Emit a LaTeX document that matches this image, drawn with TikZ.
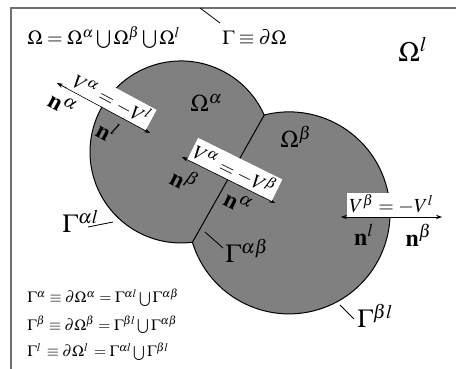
\documentclass[tikz,border=0pt]{standalone}
\usepackage{mathptmx}
\usepackage{xcolor}
\usepackage{tikz}
\usetikzlibrary{arrows.meta}
\definecolor{regiongray}{HTML}{808080}
\definecolor{framegray}{HTML}{707070}

\tikzset{
  vec/.style={{Stealth[length=3pt,width=2.2pt]}-{Stealth[length=3pt,width=2.2pt]}, line width=0.4pt},
  jumpbox/.style={fill=white, inner sep=1pt, sloped, anchor=south, font=\fontsize{10}{12}\selectfont},
  normlabel/.style={sloped, anchor=north, inner sep=3.5pt, font=\fontsize{12}{14}\selectfont},
  regionlabel/.style={anchor=base west, inner sep=0pt, font=\fontsize{12}{14}\selectfont},
  bndlabel/.style={anchor=base west, inner sep=0pt, font=\fontsize{13}{15}\selectfont},
  defeq/.style={anchor=base west, inner sep=0pt, font=\fontsize{7.8}{9}\selectfont},
  pointer/.style={line width=0.4pt},
}

\begin{document}
\begin{tikzpicture}[x=0.5pt,y=-0.5pt]
  \useasboundingbox (0,0) rectangle (456,369);
  % Frame (cut at right and bottom)
  \draw[framegray, line width=0.6pt] (11,369) -- (11,8) -- (456,8);

  % Two phases: two discs, straight interface between them
  \coordinate (jTop) at (264.2,115.1);
  \coordinate (jBot) at (192.4,242.3);
  \filldraw[fill=regiongray, draw=black, line width=0.5pt]
    (jTop) arc[start angle=-23.9, end angle=-277.2, radius=91]
           arc[start angle=163.1, end angle=-104.2, radius=101] -- cycle;
  \draw[line width=0.5pt] (jTop) -- (jBot);

  % Normals and jump conditions
  \coordinate (alA) at (57,83);
  \coordinate (alB) at (150,133);
  \draw[vec] (alA) -- node[jumpbox, pos=0.53] (jumpAL) {$V^\alpha = -V^l$}
    node[normlabel, pos=0.14] (nAlphaAL) {$\mathbf{n}^\alpha$}
    node[normlabel, pos=0.64] (nLAL) {$\mathbf{n}^l$} (alB);

  \coordinate (abA) at (182,157);
  \coordinate (abB) at (275,203);
  \draw[vec] (abA) -- node[jumpbox, pos=0.51] (jumpAB) {$V^\alpha = -V^\beta$}
    node[normlabel, pos=0.12] (nBetaAB) {$\mathbf{n}^\beta$}
    node[normlabel, pos=0.68] (nAlphaAB) {$\mathbf{n}^\alpha$} (abB);

  \coordinate (blA) at (341,217);
  \coordinate (blB) at (442,217);
  \draw[vec] (blA) -- node[jumpbox, pos=0.5] (jumpBL) {$V^\beta = -V^l$}
    node[normlabel, pos=0.23] (nLBL) {$\mathbf{n}^l$}
    node[normlabel, pos=0.77] (nBetaBL) {$\mathbf{n}^\beta$} (blB);

  % Region names
  \node[regionlabel] (omA) at (190,112) {$\Omega^\alpha$};
  \node[regionlabel] (omB) at (280,148) {$\Omega^\beta$};
  \node[regionlabel, font=\fontsize{14}{16}\selectfont] (omL) at (398,62) {$\Omega^l$};

  % Boundary names and pointers
  \node[bndlabel] (gAL) at (62,233) {$\Gamma^{\alpha l}$};
  \node[bndlabel] (gAB) at (225,263) {$\Gamma^{\alpha\beta}$};
  \node[bndlabel] (gBL) at (357,328) {$\Gamma^{\beta l}$};
  \coordinate (pAL1) at (88,227);  \coordinate (pAL2) at (113,222);
  \coordinate (pAB1) at (223,248); \coordinate (pAB2) at (205,232);
  \coordinate (pBL1) at (354,319); \coordinate (pBL2) at (340,305);
  \coordinate (pG1) at (220,23);   \coordinate (pG2) at (200,8);
  \draw[pointer] (pAL1) -- (pAL2);
  \draw[pointer] (pAB1) -- (pAB2);
  \draw[pointer] (pBL1) -- (pBL2);
  \draw[pointer] (pG1) -- (pG2);

  % Definitions
  \node[anchor=base west, inner sep=0pt, font=\fontsize{10}{12}\selectfont] (omDef) at (27,45)
    {$\Omega = \Omega^\alpha \bigcup \Omega^\beta \bigcup \Omega^l$};
  \node[anchor=base west, inner sep=0pt, font=\fontsize{10}{12}\selectfont] (gDef) at (222,45)
    {$\Gamma \equiv \partial\Omega$};
  \node[defeq] (gAdef) at (27,303) {$\Gamma^\alpha \equiv \partial\Omega^\alpha = \Gamma^{\alpha l} \bigcup \Gamma^{\alpha\beta}$};
  \node[defeq] (gBdef) at (27,330) {$\Gamma^\beta \equiv \partial\Omega^\beta = \Gamma^{\beta l} \bigcup \Gamma^{\alpha\beta}$};
  \node[defeq] (gLdef) at (27,357) {$\Gamma^l\,\equiv \partial\Omega^l\,= \Gamma^{\alpha l} \bigcup \Gamma^{\beta l}$};
\end{tikzpicture}
\end{document}
